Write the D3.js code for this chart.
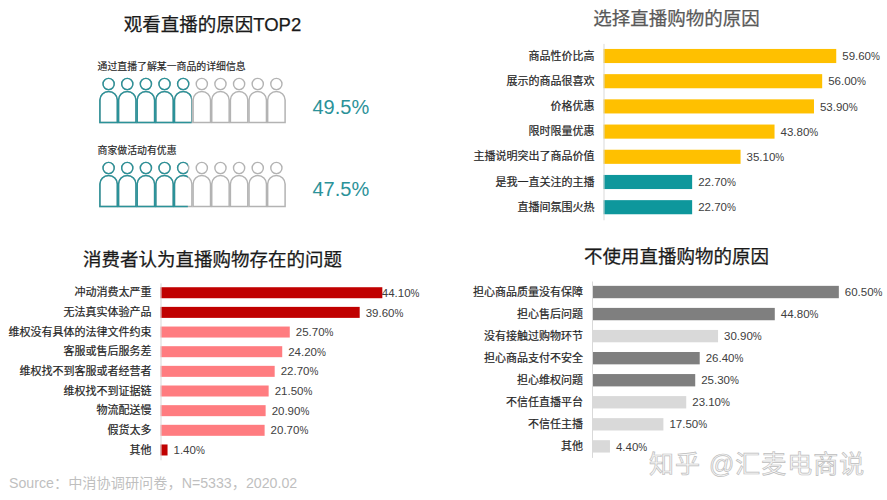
<!DOCTYPE html>
<html>
<head>
<meta charset="utf-8">
<script src="https://cdn.jsdelivr.net/npm/d3@7"></script>
<style>
  html, body { margin: 0; background: #fff; }
  text { font-family: "Liberation Sans", "Noto Sans CJK SC", sans-serif; }
  .value { font-family: "Liberation Sans", sans-serif; }
</style>
</head>
<body>
<div id="chart"></div>
<script>
// 观看直播的原因TOP2
var watchLabels = ["通过直播了解某一商品的详细信息", "商家做活动有优惠"];
var watchValues = [49.5, 47.5];

// 选择直播购物的原因
var buyLabels = ["商品性价比高", "展示的商品很喜欢", "价格优惠", "限时限量优惠", "主播说明突出了商品价值", "是我一直关注的主播", "直播间氛围火热"];
var buyValues = [59.6, 56.0, 53.9, 43.8, 35.1, 22.7, 22.7];
var buyHighlight = ["是我一直关注的主播", "直播间氛围火热"];

// 消费者认为直播购物存在的问题
var issueLabels = ["冲动消费太严重", "无法真实体验产品", "维权没有具体的法律文件约束", "客服或售后服务差", "维权找不到客服或者经营者", "维权找不到证据链", "物流配送慢", "假货太多", "其他"];
var issueValues = [44.1, 39.6, 25.7, 24.2, 22.7, 21.5, 20.9, 20.7, 1.4];
var issueHighlight = ["维权没有具体的法律文件约束", "客服或售后服务差", "维权找不到客服或者经营者", "维权找不到证据链", "物流配送慢", "假货太多"];

// 不使用直播购物的原因
var notBuyLabels = ["担心商品质量没有保障", "担心售后问题", "没有接触过购物环节", "担心商品支付不安全", "担心维权问题", "不信任直播平台", "不信任主播", "其他"];
var notBuyValues = [60.5, 44.8, 30.9, 26.4, 25.3, 23.1, 17.5, 4.4];
var notBuyHighlight = ["没有接触过购物环节", "不信任直播平台", "不信任主播", "其他"];

var width = 887;
var height = 500;
var teal = "#2b9299";

var svg = d3.select("#chart")
    .append("svg")
    .attr("width", width)
    .attr("height", height)
    .style("display", "block");

function drawTitle(text, x, y, color) {
    svg.append("text")
        .attr("x", x)
        .attr("y", y)
        .attr("text-anchor", "middle")
        .attr("fill", color)
        .attr("stroke", color)
        .attr("stroke-width", 0.25)
        .style("font-size", "18.5px")
        .text(text);
}

// 横向条形图，x0/pxPerUnit 决定横轴，yRange 决定纵轴
function drawBars(labels, values, highlight, opt) {
    var x = d3.scaleLinear()
        .domain([0, 100])
        .range([opt.x0, opt.x0 + opt.pxPerUnit * 100]);
    var y = d3.scaleBand()
        .domain(labels)
        .range(opt.yRange)
        .paddingInner(0.44)
        .paddingOuter(0.22);

    var g = svg.append("g");

    g.selectAll("rect")
        .data(labels)
        .enter()
        .append("rect")
        .attr("x", x(0))
        .attr("y", d => y(d))
        .attr("width", (d, i) => x(values[i]) - x(0))
        .attr("height", y.bandwidth())
        .attr("fill", d => highlight.includes(d) ? opt.altColor : opt.color);

    var axis = g.append("g")
        .attr("transform", "translate(" + x(0) + ",0)")
        .call(d3.axisLeft(y).tickSize(0).tickPadding(9));
    axis.select(".domain").attr("stroke", "#d9d9d9");
    axis.selectAll("text")
        .style("font-family", '"Noto Sans CJK SC", sans-serif')
        .style("font-size", "11px")
        .attr("fill", "#262626")
        .attr("stroke", "#262626")
        .attr("stroke-width", 0.2);

    var valueText = g.selectAll(".value")
        .data(labels)
        .enter()
        .append("text")
        .attr("class", "value")
        // 第一个标签在原图里贴着条形末端
        .attr("x", (d, i) => x(values[i]) + (i === 0 && opt.tightFirst ? -0.5 : 6))
        .attr("y", d => y(d) + y.bandwidth() / 2)
        .attr("dy", "0.36em")
        .attr("fill", "#404040")
        .style("font-size", "11.5px")
        .text((d, i) => values[i].toFixed(2));
    valueText.append("tspan")
        .style("font-size", "10px")
        .text("%");

    drawTitle(opt.title, opt.titleX, opt.titleY, opt.titleColor);
}

drawBars(buyLabels, buyValues, buyHighlight, {
    title: "选择直播购物的原因", titleX: 676.5, titleY: 25, titleColor: "#595959",
    x0: 603.5, pxPerUnit: 3.905, yRange: [43.4, 219.8], color: "#ffc000", altColor: "#0e979c"
});
drawBars(issueLabels, issueValues, issueHighlight, {
    title: "消费者认为直播购物存在的问题", titleX: 212.5, titleY: 266, titleColor: "#1a1a1a", tightFirst: true,
    x0: 160.5, pxPerUnit: 5.03, yRange: [282.9, 459.8], color: "#c00000", altColor: "#ff7c80"
});
drawBars(notBuyLabels, notBuyValues, notBuyHighlight, {
    title: "不使用直播购物的原因", titleX: 676.5, titleY: 263, titleColor: "#1a1a1a",
    x0: 592, pxPerUnit: 4.08, yRange: [281, 457.4], color: "#7f7f7f", altColor: "#d9d9d9"
});

// 左上角：人形图
drawTitle("观看直播的原因TOP2", 212.5, 31, "#1a1a1a");

var personX = d3.scaleLinear().domain([0, 100]).range([99.3, 285.7]);
var people = d3.range(0, 100, 10);
var rowY = d3.scalePoint().domain(watchLabels).range([0, 84]);
var pctY = d3.scalePoint().domain(watchLabels).range([114, 196]);
var defs = svg.append("defs");

function personRow(g, color) {
    g.selectAll("circle")
        .data(people)
        .enter()
        .append("circle")
        .attr("cx", d => personX(d + 5))
        .attr("cy", 84)
        .attr("r", 5.6)
        .attr("fill", "none")
        .attr("stroke", color)
        .attr("stroke-width", 1.4);
    g.selectAll("path")
        .data(people)
        .enter()
        .append("path")
        .attr("d", function (d) {
            var left = personX(d) + 0.6;
            var right = personX(d + 10) - 0.6;
            var rx = (right - left) / 2;
            return "M" + left + ",122.5V100A" + rx + ",8.5 0 0 1 " + right + ",100V122.5Z";
        })
        .attr("fill", "none")
        .attr("stroke", color)
        .attr("stroke-width", 1.5);
}

watchLabels.forEach(function (label, i) {
    var row = svg.append("g")
        .attr("transform", "translate(0," + rowY(label) + ")");

    row.append("text")
        .attr("x", 97.5)
        .attr("y", 69.5)
        .attr("fill", "#262626")
        .attr("stroke", "#262626")
        .attr("stroke-width", 0.15)
        .style("font-family", '"Noto Sans CJK SC", sans-serif')
        .style("font-size", "9.9px")
        .text(label);

    personRow(row.append("g"), "#b3b3b3");

    defs.append("clipPath")
        .attr("id", "share" + i)
        .append("rect")
        .attr("x", personX(0) - 2)
        .attr("y", 70)
        .attr("width", personX(watchValues[i]) - personX(0) + 2)
        .attr("height", 60);
    personRow(row.append("g").attr("clip-path", "url(#share" + i + ")"), teal);

    svg.append("text")
        .attr("class", "value")
        .attr("x", 312.5)
        .attr("y", pctY(label))
        .attr("fill", teal)
        .style("font-size", "20px")
        .text(watchValues[i].toFixed(1) + "%");
});

// 来源和水印
svg.append("text")
    .attr("x", 9)
    .attr("y", 488)
    .attr("fill", "#bfbfbf")
    .style("font-size", "14.2px")
    .text("Source：中消协调研问卷，N=5333，2020.02");

svg.append("text")
    .attr("x", 649)
    .attr("y", 473)
    .attr("fill", "#f7f7f7")
    .attr("stroke", "#bdbdbd")
    .attr("stroke-width", 0.7)
    .style("font-size", "25px")
    .style("letter-spacing", "1px")
    .text("知乎 @汇麦电商说");
</script>
</body>
</html>
